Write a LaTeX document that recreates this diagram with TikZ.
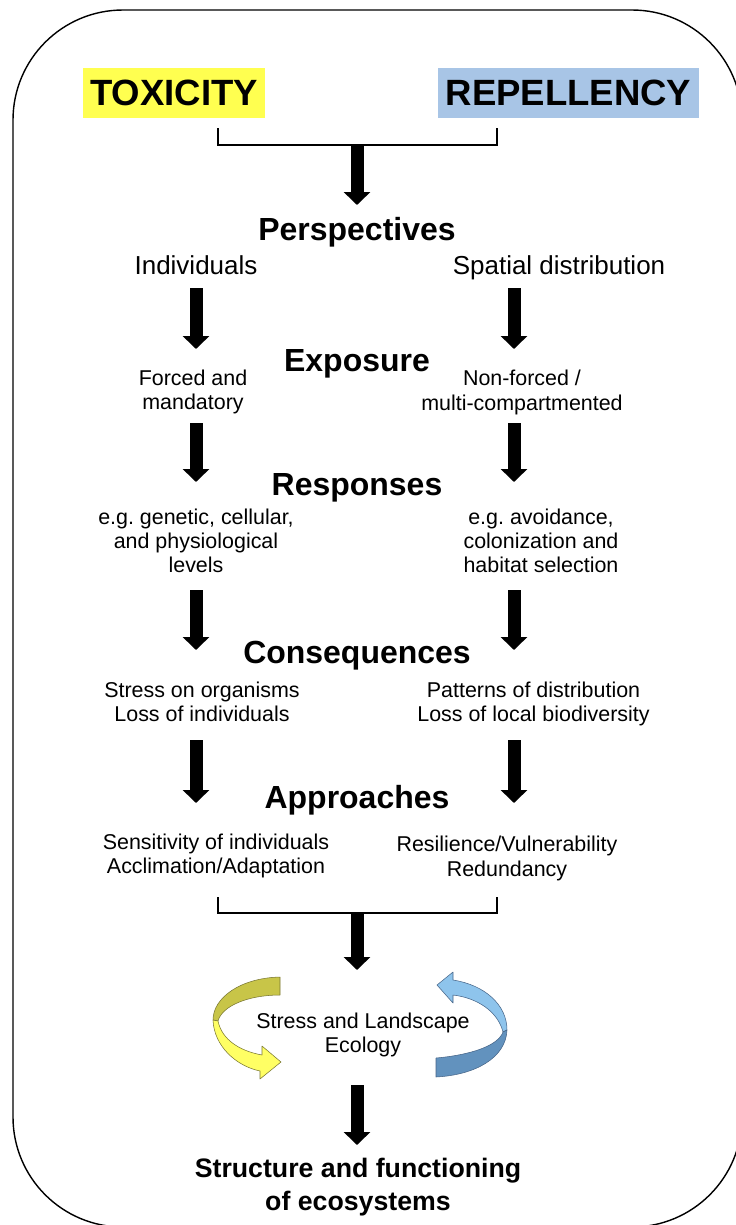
\documentclass[tikz,border=0pt]{standalone}
\usepackage{fontspec}
\setmainfont{Liberation Sans}
\usetikzlibrary{arrows.meta,positioning}
\definecolor{toxyellow}{RGB}{255,255,80}
\definecolor{repblue}{RGB}{168,197,230}
\definecolor{yelback}{RGB}{200,197,72}
\definecolor{yelfront}{RGB}{255,255,100}
\definecolor{yeledge}{RGB}{120,118,50}
\definecolor{blueback}{RGB}{142,196,236}
\definecolor{bluefront}{RGB}{98,146,190}
\definecolor{blueedge}{RGB}{70,100,135}
\tikzset{
    frame line/.style={line width=0.8pt},
    bigarr/.style={-{Triangle[width=0.52cm,length=0.26cm]},line width=0.26cm},
    bracket/.style={line width=1.2pt},
    title box/.style={font=\fontsize{20.8}{25}\selectfont\bfseries,inner xsep=0.15cm,inner ysep=0pt,minimum height=1cm},
    heading/.style={font=\fontsize{18.2}{22}\selectfont\bfseries,anchor=base},
    branch/.style={font=\fontsize{14.8}{18}\selectfont,anchor=base},
    note/.style={font=\fontsize{12.2}{13.8}\selectfont,align=center},
    ribbon/.style={line width=0.3pt,line join=round},
}
\begin{document}
\begin{tikzpicture}[x=0.02cm,y=-0.02cm]
    \useasboundingbox (0,0) rectangle (736,1225);
    \clip (0,0) rectangle (736,1225);
    \draw[frame line,rounded corners=2.2cm] (13,10) rectangle (742,1227);

    % top: the two effects
    \node[title box,fill=toxyellow] (tox) at (174,93) {TOXICITY};
    \node[title box,fill=repblue] (rep) at (568.5,93) {REPELLENCY};
    \coordinate (brtl) at (218,128);
    \coordinate (brtr) at (497,128);
    \coordinate (brtm) at (357,145);
    \coordinate (persptip) at (357,205);
    \draw[bracket] (brtl) |- (brtm) -| (brtr);
    \draw[bigarr] (brtm) -- (persptip);

    % headings
    \node[heading] (persp) at (357,240) {Perspectives};
    \node[heading] (expo) at (357,371) {Exposure};
    \node[heading] (resp) at (357,495) {Responses};
    \node[heading] (conseq) at (357,663) {Consequences};
    \node[heading] (appr) at (357,808) {Approaches};

    % left and right columns
    \node[branch] (indiv) at (196,274) {Individuals};
    \node[branch] (spatial) at (559,274) {Spatial distribution};
    \node[note] (forced) at (193,392) {Forced and\\mandatory};
    \node[note] (nonforced) at (522,392.5) {Non-forced /\\multi-compartmented};
    \node[note] (genetic) at (196,541) {e.g.\ genetic, cellular,\\and physiological\\levels};
    \node[note] (avoid) at (541,541) {e.g.\ avoidance,\\colonization and\\habitat selection};
    \node[note] (organisms) at (202,702) {Stress on organisms\\Loss of individuals};
    \node[note] (patterns) at (533.5,704) {Patterns of distribution\\Loss of local biodiversity};
    \node[note] (sensit) at (216,856) {Sensitivity of individuals\\Acclimation/Adaptation};
    \node[note] (resil) at (507,858.5) {Resilience/Vulnerability\\Redundancy};

    \foreach \ya/\yb [count=\k] in {288/349,423/482,590/650,740/803}{
        \coordinate (l\k a) at (196,\ya);
        \coordinate (l\k b) at (196,\yb);
        \coordinate (r\k a) at (514,\ya);
        \coordinate (r\k b) at (514,\yb);
        \draw[bigarr] (l\k a) -- (l\k b);
        \draw[bigarr] (r\k a) -- (r\k b);
    }

    % bottom bracket
    \coordinate (brbl) at (218,897);
    \coordinate (brbr) at (497,897);
    \coordinate (brbm) at (357,913);
    \coordinate (ecoltip) at (357,970);
    \draw[bracket] (brbl) |- (brbm) -| (brbr);
    \draw[bigarr] (brbm) -- (ecoltip);

    % circular arrows
    \filldraw[ribbon,fill=yelback,draw=yeledge] (280,977) .. controls (240,978) and (213,998) .. (213,1020)
        -- (218,1021) .. controls (222,1006) and (248,995) .. (280,995) -- cycle;
    \filldraw[ribbon,fill=yelfront,draw=yeledge] (213,1020) .. controls (214,1046) and (236,1066) .. (260,1071)
        -- (260,1079) -- (281,1062) -- (262,1046) -- (262,1055)
        .. controls (240,1051) and (222,1040) .. (218,1021) -- cycle;
    \filldraw[ribbon,fill=blueback,draw=blueedge] (437,985) -- (453,972) -- (453,980)
        .. controls (485,985) and (507,1005) .. (507,1030)
        -- (503,1032) .. controls (498,1012) and (478,998) .. (453,995) -- (453,1003) -- cycle;
    \filldraw[ribbon,fill=bluefront,draw=blueedge] (507,1030) .. controls (506,1058) and (475,1075) .. (436,1077)
        -- (436,1058) .. controls (470,1055) and (498,1046) .. (503,1032) -- cycle;
    \node[note] (ecol) at (363,1035) {Stress and Landscape\\Ecology};

    \coordinate (ecolbot) at (357,1085);
    \coordinate (structtip) at (357,1145);
    \draw[bigarr] (ecolbot) -- (structtip);
    \node[font=\fontsize{15.2}{18.8}\selectfont\bfseries,align=center] (struct) at (358,1187.5) {Structure and functioning\\of ecosystems};
\end{tikzpicture}
\end{document}
